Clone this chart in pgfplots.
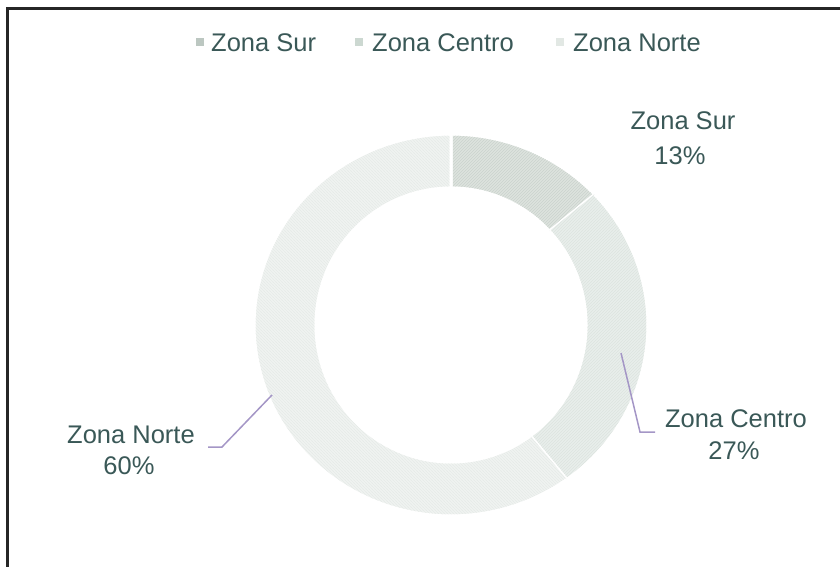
\documentclass[border=0pt]{standalone}
\usepackage{pgfplots}
\pgfplotsset{compat=1.18}
\usepackage{pgfplotstable}
\usepackage{fontspec}
\setmainfont{Liberation Sans}
\usetikzlibrary{patterns}
\definecolor{txt}{HTML}{3A5857}
\definecolor{lead}{HTML}{A496C6}
\definecolor{frame}{HTML}{262626}
\definecolor{fSur}{HTML}{DDE3DE}
\definecolor{hSur}{HTML}{CAD3CD}
\definecolor{fCen}{HTML}{E9EEEB}
\definecolor{hCen}{HTML}{DCE4DF}
\definecolor{fNor}{HTML}{F0F3F1}
\definecolor{hNor}{HTML}{E6EBE8}
\definecolor{mSur}{HTML}{BCC7C1}
\definecolor{mCen}{HTML}{CCD8D1}
\definecolor{mNor}{HTML}{E2E8E4}
\tikzset{lbl/.style={anchor=base, text=txt, font=\fontsize{25.5}{30}\selectfont, inner sep=0pt},
  leg/.style={anchor=base west, text=txt, font=\fontsize{25.5}{30}\selectfont, inner sep=0pt}}

\pgfplotstableread{
zona pct
Sur 13
Centro 27
Norte 60
}\datos

% #1 start angle, #2 end angle, #3 fill, #4 pattern
\newcommand\ring[4]{%
\addplot[fill=#3, draw=white, line width=3pt,
  postaction={pattern=#4},
  samples at={0,...,200}, variable=\t]
({451+((\t<100.5)?197:135)*cos((\t<100.5)?(#1+(#2-#1)*\t/100):(#2-(#2-#1)*(\t-101)/99))},
 {325-((\t<100.5)?191:137)*sin((\t<100.5)?(#1+(#2-#1)*\t/100):(#2-(#2-#1)*(\t-101)/99))});
}

\begin{document}
\begin{tikzpicture}
\pgfplotstablegetelem{0}{pct}\of\datos \let\pS\pgfplotsretval
\pgfplotstablegetelem{1}{pct}\of\datos \let\pC\pgfplotsretval
\pgfplotstablegetelem{2}{pct}\of\datos \let\pN\pgfplotsretval
\pgfmathsetmacro\aA{90}
\pgfmathsetmacro\aB{90-3.6*\pS}
\pgfmathsetmacro\aC{\aB-3.6*\pC}
\pgfmathsetmacro\aD{\aC-3.6*\pN}
\useasboundingbox (0,0) rectangle (840pt,567pt);
\begin{axis}[at={(0,0)}, anchor=south west, scale only axis,
  width=840pt, height=567pt, xmin=0, xmax=840, ymin=0, ymax=567,
  y dir=reverse, hide axis, clip=false]
\ring{\aA}{\aB}{fSur}{north east lines, pattern color=hSur}
\ring{\aB}{\aC}{fCen}{north east lines, pattern color=hCen}
\ring{\aC}{\aD}{fNor}{north west lines, pattern color=hNor}

% leader lines
\draw[lead, line width=1.5pt] (axis cs:621,353) -- (axis cs:640,432) -- (axis cs:655,432);
\draw[lead, line width=1.5pt] (axis cs:272,395) -- (axis cs:222,447) -- (axis cs:208,447);

% data labels
\node[lbl] at (axis cs:683,130) {Zona Sur};
\node[lbl] at (axis cs:680,164) {\pS\%};
\node[lbl] at (axis cs:736,427) {Zona Centro};
\node[lbl] at (axis cs:734,459) {\pC\%};
\node[lbl] at (axis cs:131,443) {Zona Norte};
\node[lbl] at (axis cs:129,474) {\pN\%};

% legend
\fill[mSur] (axis cs:196,38) rectangle (axis cs:204,46);
\node[leg] at (axis cs:211,52) {Zona Sur};
\fill[mCen] (axis cs:355,38) rectangle (axis cs:363,46);
\node[leg] at (axis cs:372,52) {Zona Centro};
\fill[mNor] (axis cs:556,38) rectangle (axis cs:564,46);
\node[leg] at (axis cs:573,52) {Zona Norte};

% frame
\draw[frame, line width=3pt] (axis cs:7.5,570) -- (axis cs:7.5,9) -- (axis cs:842,9);
\end{axis}
\end{tikzpicture}
\end{document}
